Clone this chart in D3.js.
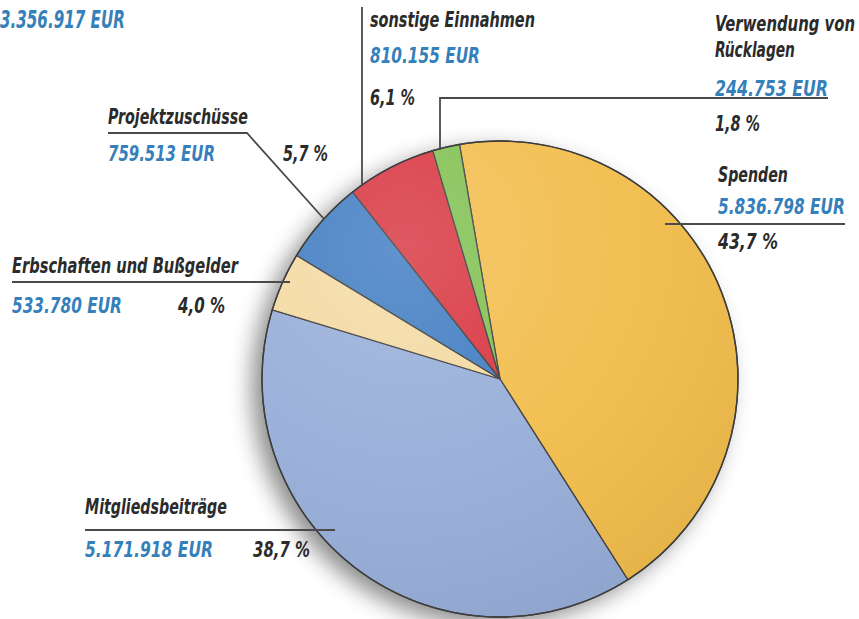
<!DOCTYPE html>
<html><head><meta charset="utf-8">
<script src="https://cdn.jsdelivr.net/npm/d3@7"></script>
<style>
html,body{margin:0;padding:0;background:#fff;}
svg{display:block;}
text{font-family:"DejaVu Sans Condensed","DejaVu Sans",sans-serif;font-style:italic;font-stretch:condensed;font-weight:bold;}
</style></head>
<body><svg id="chart" width="859" height="619"></svg>
<script>
// ---- data ----
const categories = ["Spenden","Mitgliedsbeiträge","Erbschaften und Bußgelder","Projektzuschüsse","sonstige Einnahmen","Verwendung von Rücklagen"];
const amounts = [5836798, 5171918, 533780, 759513, 810155, 244753];
const amountLabels = ["5.836.798 EUR","5.171.918 EUR","533.780 EUR","759.513 EUR","810.155 EUR","244.753 EUR"];
const percentLabels = ["43,7 %","38,7 %","4,0 %","5,7 %","6,1 %","1,8 %"];
const totalLabel = "3.356.917 EUR";
const colors = ["#f2bd4c","#97aed8","#f4daa2","#3f7cc2","#d8343f","#80c050"];

// ---- layout ----
const svg = d3.select("#chart");
const cx = 500, cy = 379, R = 238;
const startDeg = -9.8;
const darkText = "#2b2b2b", blueText = "#3580bb", lineCol = "#4a4a4a";

const defs = svg.append("defs");
const sh = defs.append("filter").attr("id","shadow").attr("x","-30%").attr("y","-30%").attr("width","160%").attr("height","160%");
sh.append("feDropShadow").attr("dx",-10).attr("dy",8).attr("stdDeviation",11).attr("flood-color","#000").attr("flood-opacity",0.45);
const rg = defs.append("radialGradient").attr("id","light").attr("cx","0.3").attr("cy","0.22").attr("r","0.85");
rg.append("stop").attr("offset","0").attr("stop-color","#fff").attr("stop-opacity",0.18);
rg.append("stop").attr("offset","0.55").attr("stop-color","#fff").attr("stop-opacity",0.04);
rg.append("stop").attr("offset","1").attr("stop-color","#000").attr("stop-opacity",0.05);

const pie = d3.pie().sort(null).value(d => d)
  .startAngle(startDeg*Math.PI/180).endAngle((startDeg+360)*Math.PI/180);
const arcs = pie(amounts);
const arc = d3.arc().innerRadius(0).outerRadius(R);

const g = svg.append("g").attr("transform",`translate(${cx},${cy})`);
g.append("circle").attr("r",R).attr("fill","#ccc").attr("filter","url(#shadow)");
g.selectAll("path.slice").data(arcs).join("path").attr("class","slice")
  .attr("d",arc).attr("fill",(d,i)=>colors[i])
  .attr("stroke","#3d3d3d").attr("stroke-width",1.3).attr("stroke-linejoin","round");
g.append("circle").attr("r",R).attr("fill","url(#light)").attr("pointer-events","none");
g.append("circle").attr("r",R).attr("fill","none").attr("stroke","#3d3d3d").attr("stroke-width",1.4);

const labelLayout = [
  {i:0, x:718, name:["Spenden"], nameY:[182], nameW:[70], amtY:214, amtW:127, pctX:718, pctY:249, pctW:60,
   leader:[[665,224],[845,224]]},
  {i:1, x:85, name:["Mitgliedsbeiträge"], nameY:[514], nameW:[142], amtY:557, amtW:128, pctX:253, pctY:557, pctW:57,
   leader:[[85,530],[335,530]]},
  {i:2, x:12, name:["Erbschaften und Bußgelder"], nameY:[273], nameW:[226], amtY:313, amtW:110, pctX:178, pctY:313, pctW:47,
   leader:[[12,282],[290,282]]},
  {i:3, x:108, name:["Projektzuschüsse"], nameY:[124], nameW:[140], amtY:161, amtW:107, pctX:283, pctY:161, pctW:45,
   leader:[[108,133],[247,133],[324,219]]},
  {i:4, x:370, name:["sonstige Einnahmen"], nameY:[27], nameW:[165], amtY:63, amtW:110, pctX:370, pctY:105, pctW:45,
   leader:[[362,7],[362,186]]},
  {i:5, x:715, name:["Verwendung von","Rücklagen"], nameY:[31,57], nameW:[140,80], amtY:96, amtW:113, pctX:715, pctY:131, pctW:45,
   leader:[[828,98],[440,98],[440,150]]}
];
const fs = 22;
const line = d3.line();
function addText(x, y, str, w, size, color){
  const t = svg.append("text").attr("x",0).attr("y",0).attr("font-size",size).attr("fill",color).text(str);
  const nat = t.node().getComputedTextLength();
  t.attr("transform",`translate(${x},${y}) scale(${w/nat},1)`);
  return t;
}
labelLayout.forEach(L => {
  svg.append("path").attr("d",line(L.leader)).attr("fill","none")
    .attr("stroke",lineCol).attr("stroke-width",1.8);
  L.name.forEach((t,k)=> addText(L.x, L.nameY[k], t, L.nameW[k], fs, darkText));
  addText(L.x, L.amtY, amountLabels[L.i], L.amtW, fs, blueText);
  addText(L.pctX, L.pctY, percentLabels[L.i], L.pctW, fs, darkText);
});
addText(0, 28, totalLabel, 125, 25, blueText);
</script></body></html>
